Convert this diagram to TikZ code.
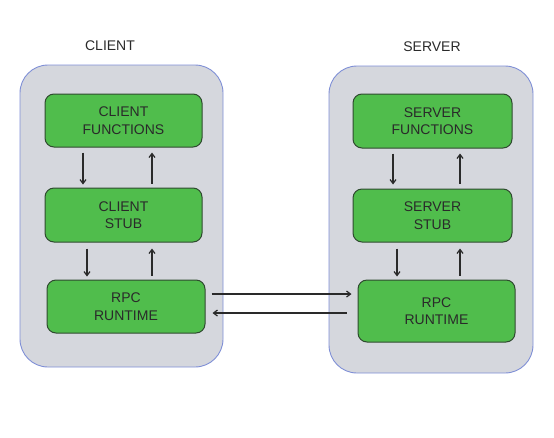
\documentclass[tikz,border=0pt]{standalone}
\usepackage{fontspec}
\setmainfont{Liberation Sans}
\usetikzlibrary{arrows.meta}
\definecolor{contfill}{HTML}{D5D7DD}
\definecolor{contline}{HTML}{7F8FD6}
\definecolor{boxfill}{HTML}{50BD4C}
\definecolor{boxline}{HTML}{2F4A2F}
\definecolor{ink}{HTML}{2A2A2A}
\tikzset{
  container/.style={draw=contline, fill=contfill, line width=0.9pt, rounded corners=28pt, inner sep=0pt},
  block/.style={draw=boxline, fill=boxfill, line width=1pt, rounded corners=9pt, inner sep=0pt, align=center,
    text=ink, font=\fontsize{14}{17.5}\selectfont},
  title/.style={text=ink, font=\fontsize{14}{16}\selectfont},
  arr/.style={draw=ink, line width=1.2pt, -{Straight Barb[length=4pt,width=6pt]}},
}
\begin{document}
\begin{tikzpicture}[x=1pt,y=-1pt]
\useasboundingbox (0,0) rectangle (554,437);
% containers
\node[container, minimum width=203pt, minimum height=302pt] (cbox) at (121.5,216) {};
\node[container, minimum width=204pt, minimum height=307pt] (sbox) at (431,219.5) {};
% titles
\node[title] (ctitle) at (110,46) {CLIENT};
\node[title] (stitle) at (432,47) {SERVER};
% client blocks
\node[block, minimum width=157pt, minimum height=53pt] (cf) at (123.5,120.5) {CLIENT\\FUNCTIONS};
\node[block, minimum width=157pt, minimum height=54pt] (cs) at (123.5,215) {CLIENT\\STUB};
\node[block, minimum width=158pt, minimum height=53pt] (cr) at (126,306.5) {RPC\\RUNTIME};
% server blocks
\node[block, minimum width=159pt, minimum height=54pt] (sf) at (432.5,121) {SERVER\\FUNCTIONS};
\node[block, minimum width=159pt, minimum height=53pt] (ss) at (432.5,215.5) {SERVER\\STUB};
\node[block, minimum width=157pt, minimum height=62pt] (sr) at (436.5,311) {RPC\\RUNTIME};
% client vertical arrows
\draw[arr, shorten <=5pt, shorten >=3pt] (cf.south -| 83,0) -- (cs.north -| 83,0);
\draw[arr, shorten <=4pt, shorten >=5pt] (cs.north -| 152,0) -- (cf.south -| 152,0);
\draw[arr, shorten <=6pt, shorten >=3pt] (cs.south -| 87,0) -- (cr.north -| 87,0);
\draw[arr, shorten <=4pt, shorten >=6pt] (cr.north -| 152,0) -- (cs.south -| 152,0);
% server vertical arrows
\draw[arr, shorten <=5pt, shorten >=4pt] (sf.south -| 393,0) -- (ss.north -| 393,0);
\draw[arr, shorten <=5pt, shorten >=5pt] (ss.north -| 460,0) -- (sf.south -| 460,0);
\draw[arr, shorten <=6pt, shorten >=3pt] (ss.south -| 397,0) -- (sr.north -| 397,0);
\draw[arr, shorten <=4pt, shorten >=6pt] (sr.north -| 460,0) -- (ss.south -| 460,0);
% horizontal arrows
\draw[arr, shorten <=6pt, shorten >=6pt] (cr.east |- 0,294) -- (sr.west |- 0,294);
\draw[arr, shorten <=11pt, shorten >=7pt] (sr.west |- 0,313) -- (cr.east |- 0,313);
\end{tikzpicture}
\end{document}
